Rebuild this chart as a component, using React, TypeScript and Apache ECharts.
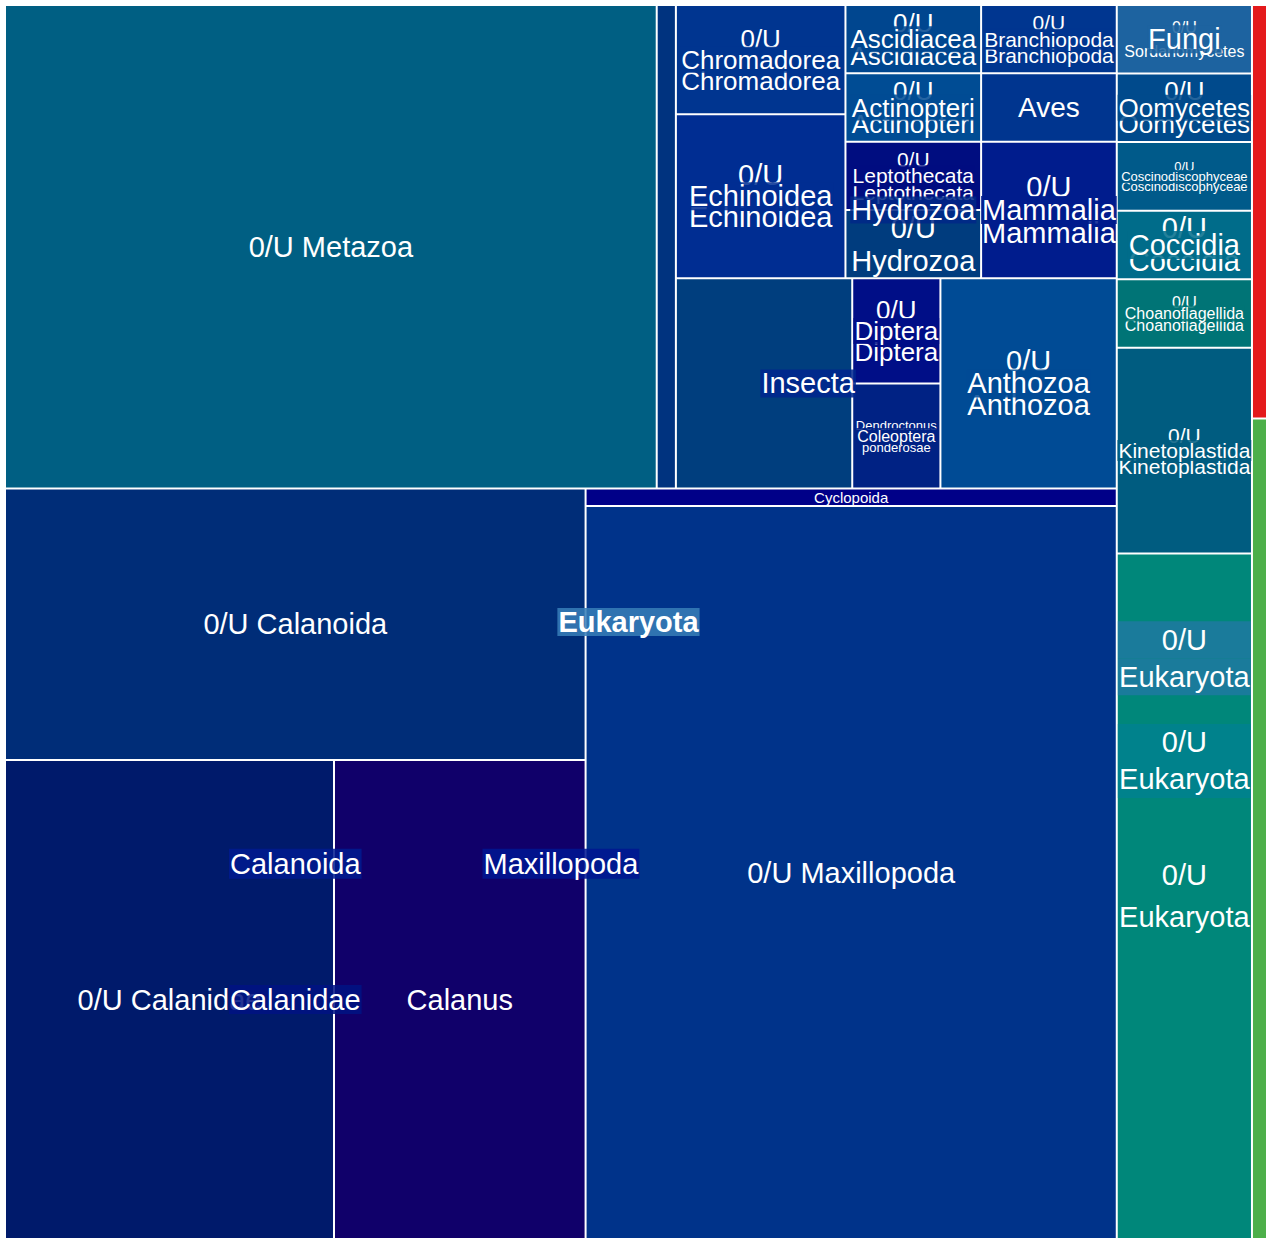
import React, { useEffect, useRef } from "react";
import * as echarts from "echarts";

// ---------------- DATA (taxonomy tree, read counts) ----------------
// Hidden "g_*" nodes are layout groups only (no label, no border).
const nodeIds = [
  "euk", "bac", "vir",
  "metazoa", "fungi", "oomycetes", "cosc", "coccidia", "choano", "kineto", "ueuk1",
  "ueuk2", "ueuk3",
  "u_sord", "u_oomy", "u_cosc", "u_cocc", "u_choano", "u_kineto",
  "g_top", "maxillopoda",
  "g_left", "g_rest",
  "u_metazoa", "other",
  "g_upper", "g_lower",
  "g_left2", "g_col3",
  "g_col1", "g_col2",
  "chromadorea", "echinoidea", "u_chrom", "u_echi",
  "ascidiacea", "actinopteri", "hydrozoa", "u_asci", "u_acti",
  "leptothecata", "u_hydro", "u_lepto",
  "branchiopoda", "aves", "mammalia", "u_branch", "u_mamm",
  "insecta", "anthozoa", "u_insecta", "diptera", "coleoptera", "u_dipt", "dendro", "u_antho",
  "calanoida", "cyclopoida", "u_maxi", "u_cala", "calanidae", "u_calanidae", "calanus",
];
const nodeNames = [
  "Eukaryota", "Bacteria", "Viruses",
  "Metazoa", "Fungi", "Oomycetes", "Coscinodiscophyceae", "Coccidia", "Choanoflagellida", "Kinetoplastida", "0/U Eukaryota",
  "0/U Eukaryota", "0/U Eukaryota",
  "0/U Sordariomycetes", "0/U Oomycetes", "0/U Coscinodiscophyceae", "0/U Coccidia", "0/U Choanoflagellida", "0/U Kinetoplastida",
  "", "Maxillopoda",
  "", "",
  "0/U Metazoa", "Other Metazoa",
  "", "",
  "", "",
  "", "",
  "Chromadorea", "Echinoidea", "0/U Chromadorea", "0/U Echinoidea",
  "Ascidiacea", "Actinopteri", "Hydrozoa", "0/U Ascidiacea", "0/U Actinopteri",
  "Leptothecata", "0/U Hydrozoa", "0/U Leptothecata",
  "Branchiopoda", "Aves", "Mammalia", "0/U Branchiopoda", "0/U Mammalia",
  "Insecta", "Anthozoa", "0/U Insecta", "Diptera", "Coleoptera", "0/U Diptera", "Dendroctonus ponderosae", "0/U Anthozoa",
  "Calanoida", "Cyclopoida", "0/U Maxillopoda", "0/U Calanoida", "Calanidae", "0/U Calanidae", "Calanus",
];
const nodeParents = [
  "", "", "",
  "euk", "euk", "euk", "euk", "euk", "euk", "euk", "euk",
  "ueuk1", "ueuk2",
  "fungi", "oomycetes", "cosc", "coccidia", "choano", "kineto",
  "metazoa", "metazoa",
  "g_top", "g_top",
  "g_left", "g_left",
  "g_rest", "g_rest",
  "g_upper", "g_upper",
  "g_left2", "g_left2",
  "g_col1", "g_col1", "chromadorea", "echinoidea",
  "g_col2", "g_col2", "g_col2", "ascidiacea", "actinopteri",
  "hydrozoa", "hydrozoa", "leptothecata",
  "g_col3", "g_col3", "g_col3", "branchiopoda", "mammalia",
  "g_lower", "g_lower", "insecta", "insecta", "insecta", "diptera", "coleoptera", "anthozoa",
  "maxillopoda", "maxillopoda", "maxillopoda", "calanoida", "calanoida", "calanidae", "calanidae",
];
const nodeValues: (number | null)[] = [
  null, 0.67, 1.33,
  null, null, null, null, null, null, null, null,
  null, 10,
  1, 1, 1, 1, 1, 3,
  null, null,
  null, null,
  34, 1,
  null, null,
  null, null,
  null, null,
  null, null, 2, 3,
  null, null, null, 1, 1,
  null, 1, 1,
  null, 1, null, 1, 2,
  null, null, 4, null, null, 1, 1, 4,
  null, 1, 42, 17, null, 17, 13,
];

// ---------------- STYLES ----------------
const FONT = '"Liberation Sans", Arial, Helvetica, sans-serif';
const CLEAR = "rgba(0,0,0,0)";

const leafColor: Record<string, string> = {
  bac: "#e41a1c", vir: "#4daf4a",
  ueuk3: "#00877a", u_sord: "#1d63a0", u_oomy: "#004a8c", u_cosc: "#005a8a",
  u_cocc: "#006c8a", u_choano: "#007476", u_kineto: "#005c80",
  u_metazoa: "#005f83", other: "#00337f",
  u_chrom: "#003590", u_echi: "#002d92", u_asci: "#00468f", u_acti: "#004c94",
  u_hydro: "#003c7e", u_lepto: "#000d80", u_branch: "#003690", aves: "#00358f", u_mamm: "#001c8d",
  u_insecta: "#003e7e", u_dipt: "#000e87", dendro: "#002284", u_antho: "#004b95",
  cyclopoida: "#000088", u_maxi: "#00338a", u_cala: "#002d78", u_calanidae: "#001a6b", calanus: "#10006a",
};

// [fontSize, lineHeight]
const leafFont: Record<string, [number, number]> = {
  u_metazoa: [29, 29], u_cala: [29, 29], u_calanidae: [29, 29], calanus: [29, 29], u_maxi: [29, 29],
  cyclopoida: [15, 15], aves: [28, 28],
  u_chrom: [26, 42], u_echi: [29, 42], u_asci: [26, 33], u_acti: [26, 33], u_lepto: [21, 33],
  u_hydro: [29, 33], u_branch: [21, 33], u_mamm: [29, 46], u_dipt: [26, 42], dendro: [13, 22],
  u_antho: [29, 44], u_sord: [16, 24], u_oomy: [26, 33], u_cosc: [13, 20], u_cocc: [29, 33],
  u_choano: [16, 23], u_kineto: [21, 31], ueuk3: [29, 42],
};
const wrapLeaves = new Set([
  "u_chrom", "u_echi", "u_asci", "u_acti", "u_lepto", "u_hydro", "u_branch", "u_mamm", "u_dipt",
  "dendro", "u_antho", "u_sord", "u_oomy", "u_cosc", "u_cocc", "u_choano", "u_kineto", "ueuk3",
]);
const hiddenLabels = new Set(["bac", "vir", "other", "u_insecta"]);

const parentFont: Record<string, [number, number]> = {
  euk: [29, 28], maxillopoda: [29, 30], calanoida: [29, 30], calanidae: [29, 29], insecta: [29, 28],
  hydrozoa: [29, 27], chromadorea: [26, 26], echinoidea: [29, 28], ascidiacea: [26, 26],
  actinopteri: [26, 26], leptothecata: [21, 21], branchiopoda: [21, 21], mammalia: [29, 28],
  anthozoa: [29, 28], diptera: [26, 26], coleoptera: [16, 16], fungi: [29, 28], oomycetes: [26, 26],
  cosc: [13, 13], coccidia: [29, 28], choano: [16, 16], kineto: [21, 21], ueuk1: [29, 37], ueuk2: [29, 37],
};
const parentBg: Record<string, string> = {
  euk: "rgba(55,126,184,0.86)",
  maxillopoda: "rgba(0,22,145,0.86)",
  calanoida: "rgba(0,27,143,0.86)",
  calanidae: "rgba(0,19,130,0.86)",
  insecta: "rgba(0,38,142,0.86)",
  hydrozoa: "rgba(0,40,135,0.86)",
  ueuk1: "rgba(30,121,161,0.86)",
  ueuk2: "rgba(0,129,143,0.86)",
};
const parentPos: Record<string, [string, string]> = {
  ueuk1: ["50%", "15.2%"],
  ueuk2: ["50%", "30.2%"],
};
const wrapParents = new Set(["ueuk1", "ueuk2"]);
// label boxes that span the whole narrow cell (px width of the box)
const boxWidth: Record<string, number> = { ueuk1: 131, ueuk2: 131 };

// ---------------- TREE HELPERS ----------------
const idx: Record<string, number> = {};
nodeIds.forEach((id, i) => (idx[id] = i));
const childrenOf: Record<string, string[]> = {};
nodeIds.forEach((id, i) => {
  const p = nodeParents[i];
  (childrenOf[p] = childrenOf[p] || []).push(id);
});
const labeledParents = new Set(Object.keys(parentFont));

function sumOf(id: string): number {
  const kids = childrenOf[id];
  if (!kids) return nodeValues[idx[id]] as number;
  return kids.reduce((s, k) => s + sumOf(k), 0);
}
function levelOf(id: string): number {
  let n = 0;
  let p = nodeParents[idx[id]];
  while (p) {
    if (labeledParents.has(p)) n++;
    p = nodeParents[idx[p]];
  }
  return n;
}
function firstLeafColor(id: string): string {
  const kids = childrenOf[id];
  if (!kids) return leafColor[id] || "#003590";
  return firstLeafColor(kids[0]);
}
function hexToRgba(hex: string, a: number): string {
  const n = parseInt(hex.slice(1), 16);
  return `rgba(${(n >> 16) & 255},${(n >> 8) & 255},${n & 255},${a})`;
}
function textFor(name: string, wrap: boolean): string {
  return wrap ? name.replace(" ", "\n") : name;
}

function buildBase(id: string): any {
  const i = idx[id];
  const kids = childrenOf[id];
  if (kids) return { name: nodeNames[i], itemStyle: { borderColor: "#ffffff" }, children: kids.map(buildBase) };
  const f = leafFont[id] || [29, 29];
  return {
    name: nodeNames[i],
    value: nodeValues[i],
    itemStyle: { color: leafColor[id], borderColor: "#ffffff" },
    label: hiddenLabels.has(id)
      ? { show: false }
      : { show: true, formatter: textFor(nodeNames[i], wrapLeaves.has(id)), fontSize: f[0], lineHeight: f[1] },
  };
}

const clearStyle = { color: CLEAR, borderColor: CLEAR };

function buildOverlay(id: string, k: number): any {
  const i = idx[id];
  const kids = childrenOf[id];
  if (labeledParents.has(id) && levelOf(id) === k) {
    const f = parentFont[id];
    const lines = textFor(nodeNames[i], wrapParents.has(id)).split("\n");
    const rich: Record<string, any> = {};
    lines.forEach((_, li) => {
      const token: any = {
        color: "#ffffff",
        fontFamily: FONT,
        fontSize: f[0],
        lineHeight: f[1],
        height: f[1],
        fontWeight: id === "euk" ? "bold" : "normal",
        backgroundColor: parentBg[id] || hexToRgba(firstLeafColor(id), 0.86),
        padding: [0, 1],
        align: "center",
        verticalAlign: "middle",
      };
      if (boxWidth[id]) token.width = boxWidth[id];
      rich["l" + li] = token;
    });
    return {
      name: nodeNames[i],
      value: sumOf(id),
      itemStyle: clearStyle,
      label: {
        show: true,
        formatter: lines.map((l, li) => `{l${li}|${l}}`).join("\n"),
        position: parentPos[id] || ["50%", "50%"],
        align: "center",
        verticalAlign: "top",
        // the rich block starts at the anchor; lift it by half its own height
        offset: [0, -(lines.length * f[1]) / 2],
        rich,
      },
    };
  }
  if (kids) return { name: nodeNames[i], itemStyle: clearStyle, children: kids.map((c) => buildOverlay(c, k)) };
  return { name: nodeNames[i], value: nodeValues[i], itemStyle: clearStyle, label: { show: false } };
}

function commonSeries(z: number, transparent: boolean) {
  return {
    type: "treemap",
    left: 6,
    top: 6,
    width: 1260,
    height: 1232,
    z,
    roam: false,
    nodeClick: false,
    silent: true,
    sort: false,
    squareRatio: 0.8,
    visibleMin: 0,
    drillDownIcon: "",
    breadcrumb: { show: false },
    upperLabel: { show: false },
    color: transparent ? [CLEAR] : undefined,
    itemStyle: transparent
      ? { color: CLEAR, borderColor: CLEAR, borderWidth: 0, gapWidth: 2 }
      : { borderColor: "#ffffff", borderWidth: 0, gapWidth: 2 },
    label: {
      show: true,
      position: "inside",
      color: "#ffffff",
      fontFamily: FONT,
      fontSize: 29,
      padding: 0,
      overflow: "none",
      align: "center",
      verticalAlign: "middle",
    },
    emphasis: { disabled: true },
  };
}

const rootIds = childrenOf[""];
const maxLevel = Math.max(...Array.from(labeledParents).map(levelOf));

function buildOption() {
  const series: any[] = [{ ...commonSeries(2, false), data: rootIds.map(buildBase) }];
  let z = 3;
  for (let k = maxLevel; k >= 0; k--) {
    series.push({ ...commonSeries(z++, true), data: rootIds.map((id) => buildOverlay(id, k)) });
  }
  return { animation: false, tooltip: { show: false }, series };
}

export default function App() {
  const ref = useRef<HTMLDivElement>(null);
  useEffect(() => {
    const chart = echarts.init(ref.current as HTMLDivElement, null, { renderer: "svg" });
    chart.setOption(buildOption() as any);
    return () => chart.dispose();
  }, []);
  return (
    <div
      ref={ref}
      style={{ position: "absolute", left: 0, top: 0, width: 1266, height: 1238, background: "#ffffff" }}
    />
  );
}
